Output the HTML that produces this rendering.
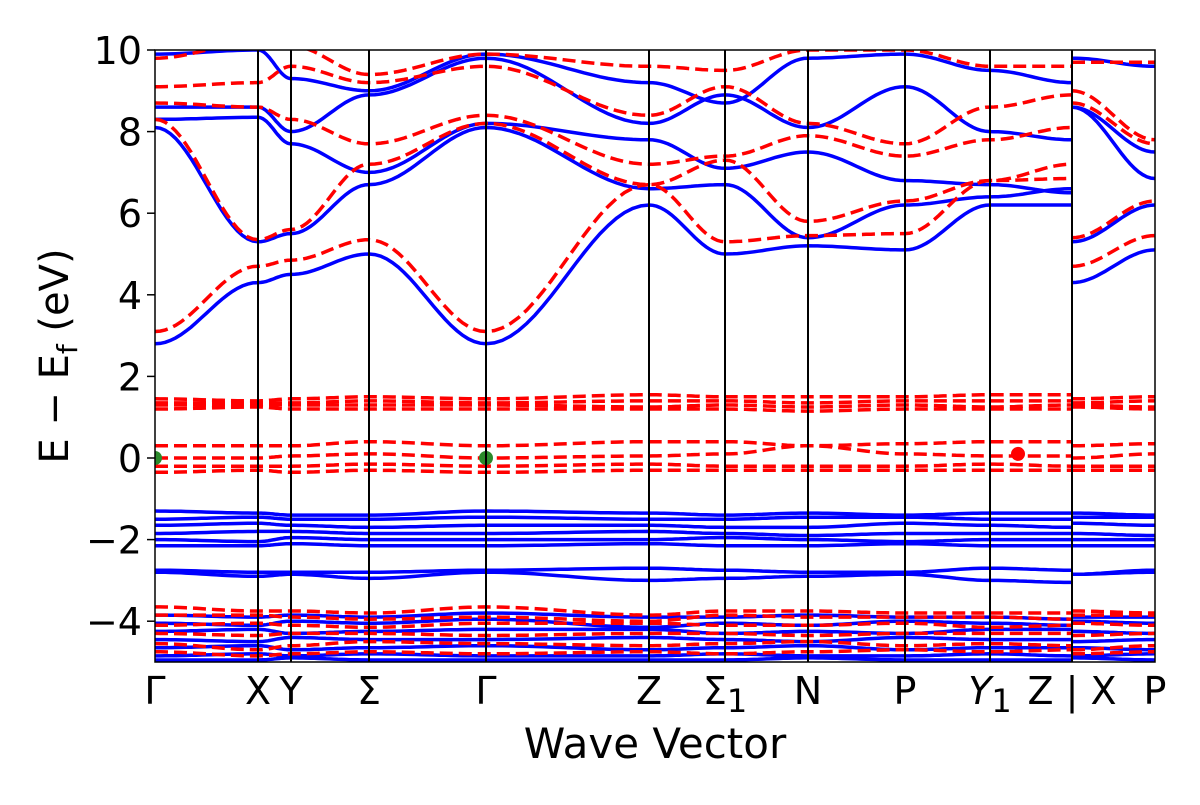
<!DOCTYPE html>
<html><head><meta charset="utf-8"><style>
body{margin:0;background:#fff}
svg text{font-family:"DejaVu Sans","Liberation Sans",sans-serif;fill:#000}
</style></head><body>
<svg id="chart" width="1200" height="800" viewBox="0 0 1200 800" xmlns="http://www.w3.org/2000/svg">
<defs><clipPath id="clip"><rect x="155" y="50" width="1000" height="612"/></clipPath></defs>
<g id="bands" clip-path="url(#clip)"></g>
<g id="vlines"></g>
<rect x="155" y="50" width="1000" height="612" fill="none" stroke="#000" stroke-width="1.5"/>
<g id="yaxis"></g>
<g id="xaxis"></g>
<text x="655" y="758" font-size="42" text-anchor="middle">Wave Vector</text>
<text transform="translate(68,356) rotate(-90)" font-size="40" text-anchor="middle">E  −  E<tspan font-size="28" dy="9">f</tspan><tspan dy="-9">  (eV)</tspan></text>
</svg>
<script>
// k positions of high-symmetry points (path distance)
const kTicks=[0,1.03,1.36,2.14,3.31,4.94,5.70,6.53,7.50,8.35,9.17,10];
const kLabels=["Γ","X","Y","Σ","Γ","Z","Σ|1","N","P","Y|1","Z | X","P"];
const yTicks=[10,8,6,4,2,0,-2,-4];
// band energies: 11 values at Γ..Z, then X, P
const blueBands=[
[2.8,4.3,4.5,5.0,2.8,6.2,5.0,5.2,5.1,6.2,6.2,4.3,5.1],
[8.1,5.3,5.5,6.7,8.1,6.6,6.7,5.4,6.2,6.4,6.6,5.3,6.2],
[8.3,8.35,7.7,7.0,8.2,7.8,7.1,7.5,6.8,6.7,6.5,8.6,7.5],
[8.6,8.6,8.0,8.9,9.8,8.2,8.9,8.1,9.1,8.0,7.8,8.6,6.85],
[9.9,10.0,9.3,9.0,9.9,9.2,8.7,9.8,9.9,9.5,9.2,9.8,9.6],
[-1.3,-1.35,-1.4,-1.4,-1.3,-1.35,-1.4,-1.35,-1.4,-1.35,-1.35,-1.35,-1.4],
[-1.5,-1.45,-1.5,-1.5,-1.45,-1.5,-1.5,-1.45,-1.45,-1.5,-1.5,-1.45,-1.45],
[-1.65,-1.6,-1.65,-1.7,-1.65,-1.65,-1.7,-1.7,-1.6,-1.65,-1.7,-1.6,-1.65],
[-1.85,-1.8,-1.8,-1.85,-1.85,-1.8,-1.85,-1.9,-1.85,-1.85,-1.85,-1.85,-1.9],
[-2.0,-2.05,-1.95,-2.0,-2.0,-2.0,-1.95,-2.0,-2.05,-2.0,-2.0,-2.0,-2.0],
[-2.15,-2.15,-2.1,-2.15,-2.15,-2.1,-2.15,-2.15,-2.1,-2.15,-2.15,-2.15,-2.15],
[-2.75,-2.8,-2.8,-2.8,-2.75,-2.7,-2.75,-2.8,-2.8,-2.7,-2.75,-2.85,-2.75],
[-2.8,-2.9,-2.85,-2.95,-2.8,-3.0,-2.95,-2.9,-2.85,-3.0,-3.05,-2.85,-2.8],
[-3.85,-3.9,-3.85,-3.9,-3.8,-3.9,-3.9,-3.85,-3.9,-3.9,-3.95,-3.9,-3.9],
[-4.05,-4.1,-4.0,-4.05,-3.95,-4.15,-4.05,-4.1,-4.0,-4.05,-4.1,-4.0,-4.05],
[-4.25,-4.2,-4.3,-4.25,-4.2,-4.2,-4.3,-4.25,-4.3,-4.2,-4.2,-4.25,-4.3],
[-4.45,-4.5,-4.4,-4.45,-4.45,-4.4,-4.45,-4.5,-4.4,-4.45,-4.45,-4.5,-4.45],
[-4.65,-4.6,-4.7,-4.65,-4.6,-4.7,-4.65,-4.6,-4.7,-4.65,-4.65,-4.65,-4.7],
[-4.85,-4.8,-4.85,-4.8,-4.85,-4.85,-4.8,-4.85,-4.85,-4.8,-4.85,-4.85,-4.8],
[-4.95,-4.95,-4.9,-4.95,-4.95,-4.95,-4.95,-4.9,-4.95,-4.95,-4.95,-4.9,-4.95]
];
const redBands=[
[3.1,4.7,4.85,5.35,3.1,6.7,5.3,5.45,5.5,6.8,6.85,4.7,5.45],
[8.3,5.35,5.6,7.2,8.2,6.7,7.3,5.8,6.3,6.8,7.2,5.4,6.3],
[8.7,8.6,8.3,7.7,8.4,7.2,7.4,7.9,7.4,7.8,8.1,8.7,7.7],
[9.1,9.2,9.6,9.2,9.6,8.4,9.1,8.2,7.7,8.6,8.9,9.0,7.8],
[9.8,10.2,10.1,9.4,9.9,9.6,9.5,10.0,10.0,9.6,9.6,9.7,9.7],
[1.45,1.4,1.45,1.5,1.45,1.55,1.5,1.5,1.5,1.55,1.55,1.45,1.5],
[1.35,1.35,1.35,1.4,1.35,1.4,1.4,1.35,1.4,1.4,1.4,1.35,1.4],
[1.3,1.3,1.3,1.3,1.3,1.25,1.3,1.25,1.3,1.25,1.3,1.3,1.25],
[1.2,1.25,1.2,1.2,1.2,1.2,1.2,1.15,1.2,1.2,1.2,1.25,1.2],
[0.3,0.3,0.3,0.4,0.3,0.4,0.4,0.3,0.35,0.4,0.4,0.3,0.35],
[0.0,0.0,0.05,0.1,0.0,0.05,0.1,0.3,0.1,0.05,0.05,0.0,0.1],
[-0.2,-0.2,-0.2,-0.15,-0.2,-0.15,-0.2,-0.2,-0.2,-0.15,-0.2,-0.2,-0.2],
[-0.35,-0.3,-0.35,-0.3,-0.35,-0.3,-0.3,-0.3,-0.3,-0.3,-0.3,-0.3,-0.3],
[-3.65,-3.75,-3.75,-3.8,-3.65,-3.85,-3.75,-3.75,-3.8,-3.8,-3.8,-3.75,-3.8],
[-3.85,-3.85,-3.9,-3.95,-3.9,-4.0,-3.85,-3.9,-3.9,-3.9,-3.95,-3.85,-3.85],
[-4.1,-4.05,-4.1,-4.15,-4.05,-4.05,-4.1,-4.1,-4.05,-4.15,-4.1,-4.05,-4.1],
[-4.3,-4.35,-4.3,-4.3,-4.35,-4.3,-4.3,-4.35,-4.3,-4.3,-4.3,-4.35,-4.3],
[-4.55,-4.7,-4.6,-4.5,-4.55,-4.6,-4.55,-4.5,-4.6,-4.55,-4.6,-4.7,-4.6],
[-4.75,-4.85,-4.8,-4.75,-4.8,-4.75,-4.8,-4.75,-4.7,-4.75,-4.7,-4.8,-4.75]
];
const markerK=[0,3.31,8.63];
const markerE=[0,0,0.1];
const markerColor=["#2a8a2a","#2a8a2a","#ff0000"];

const X0=155,X1=1155,Y0=50,Y1=662,EMIN=-5,EMAX=10,KMAX=10;
const xs=k=>X0+(k/KMAX)*(X1-X0);
const ys=e=>Y1-(e-EMIN)/(EMAX-EMIN)*(Y1-Y0);
const NS="http://www.w3.org/2000/svg";
function mk(tag,attrs,parent){const el=document.createElementNS(NS,tag);for(const a in attrs)el.setAttribute(a,attrs[a]);parent.appendChild(el);return el;}
function segPath(ks,es){
  let d="";
  for(let i=0;i<ks.length-1;i++){
    for(let s=0;s<=20;s++){
      const t=s/20,w=(1-Math.cos(Math.PI*t))/2;
      const k=ks[i]+(ks[i+1]-ks[i])*t,e=es[i]+(es[i+1]-es[i])*w;
      d+=(d===""?"M":"L")+xs(k).toFixed(1)+","+ys(e).toFixed(1);
    }
  }
  return d;
}
const gB=document.getElementById('bands');
function drawBands(list,color,dash,nm){
  list.forEach((b,i)=>{
    const p1=mk('path',{d:segPath(kTicks.slice(0,11),b.slice(0,11)),fill:'none',stroke:color,'stroke-width':3.5,'stroke-dasharray':dash},gB);
    
    
    const p2=mk('path',{d:segPath([kTicks[10],kTicks[11]],[b[11],b[12]]),fill:'none',stroke:color,'stroke-width':3.5,'stroke-dasharray':dash},gB);
    
    
  });
}
drawBands(blueBands,'#0000ff','none','spin-up');
drawBands(redBands,'#ff0000','13,6','spin-down');
markerK.forEach((k,i)=>{
  const c=mk('circle',{cx:xs(k),cy:ys(markerE[i]),r:7,fill:markerColor[i]},gB);
  
  
});
const gV=document.getElementById('vlines'),gX=document.getElementById('xaxis'),gY=document.getElementById('yaxis');
kTicks.forEach((k,i)=>{
  if(i>0&&i<kTicks.length-1){const l=mk('line',{x1:xs(k),x2:xs(k),y1:Y0,y2:Y1,stroke:'#000','stroke-width':2},gV);
  
  }
  const t=mk('text',{x:xs(k),y:704,'font-size':38,'text-anchor':'middle'},gX);
  const parts=kLabels[i].split('|');
  if(parts.length===2&&parts[1]==='1'){
    const a=mk('tspan',{},t);a.textContent=parts[0];
    if(parts[0]==='Y')a.setAttribute('font-style','italic');
    const b=mk('tspan',{dy:8,'font-size':32},t);b.textContent='1';
  } else t.textContent=kLabels[i];
  
  
});
yTicks.forEach(v=>{
  const l=mk('line',{x1:X0-8,x2:X0,y1:ys(v),y2:ys(v),stroke:'#000','stroke-width':1.5},gY);
  
  
  const t=mk('text',{x:X0-13,y:ys(v)+14,'font-size':38,'text-anchor':'end'},gY);
  t.textContent=v<0?'−'+Math.abs(v):String(v);
  
  
});
</script>
</body></html>
